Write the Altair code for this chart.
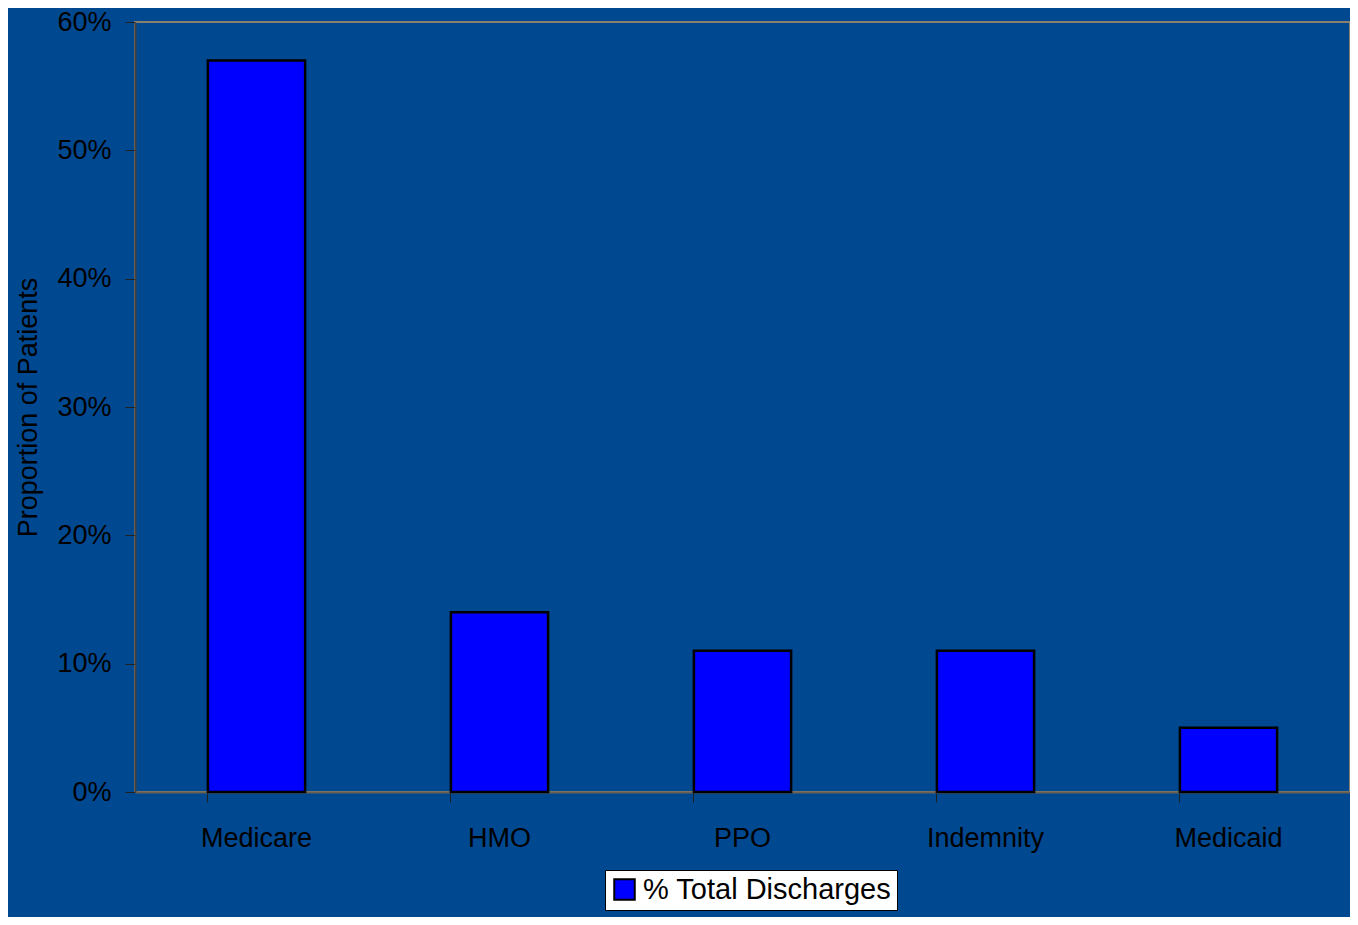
import altair as alt
import pandas as pd

categories = ["Medicare", "HMO", "PPO", "Indemnity", "Medicaid"]
values = [0.57, 0.14, 0.11, 0.11, 0.05]
series_name = "% Total Discharges"
y_ticks = [0.0, 0.1, 0.2, 0.3, 0.4, 0.5, 0.6]

df = pd.DataFrame({"Payer": categories, "Share": values, "Series": [series_name] * len(categories)})

FONT = "Liberation Sans"

chart = alt.Chart(df).mark_bar(
    stroke="#000000", strokeWidth=2.5
).encode(
    x=alt.X("Payer:N", sort=categories, title=None,
            scale=alt.Scale(paddingInner=0.6, paddingOuter=0.3),
            axis=alt.Axis(labelAngle=0, labelFontSize=27, labelPadding=23,
                          tickSize=10, tickColor="#202020", domainColor="#6a6050",
                          domainWidth=2, labelColor="#000000", labelFont=FONT,
                          bandPosition=0, ticks=True)),
    y=alt.Y("Share:Q", title="Proportion of Patients",
            scale=alt.Scale(domain=[0, 0.6], nice=False),
            axis=alt.Axis(values=y_ticks, format=".0%", grid=False,
                          labelFontSize=27, labelPadding=14, labelColor="#000000",
                          labelFont=FONT, titleFont=FONT, titleFontSize=27,
                          titleFontWeight="normal", titleColor="#000000",
                          titlePadding=14, tickSize=10, tickColor="#202020",
                          domainColor="#404040", domainWidth=2)),
    color=alt.Color("Series:N", scale=alt.Scale(range=["#0000ff"]),
                    legend=alt.Legend(title=None, orient="none",
                                      legendX=470, legendY=848,
                                      fillColor="#ffffff", strokeColor="#000000",
                                      padding=5, symbolType="square", symbolSize=420,
                                      symbolStrokeColor="#000000", symbolStrokeWidth=2,
                                      symbolOpacity=1, labelLimit=0,
                                      labelFontSize=29, labelFont=FONT,
                                      labelColor="#000000")),
).properties(
    width=1215, height=770,
    autosize=alt.AutoSizeParams(type="none"),
    background="#00488f",
    padding={"left": 127, "top": 14, "right": 0, "bottom": 125},
).configure_view(
    stroke="#8a8070", strokeWidth=2
)

chart.save("out.html", embed_options={"renderer": "svg", "actions": False})
